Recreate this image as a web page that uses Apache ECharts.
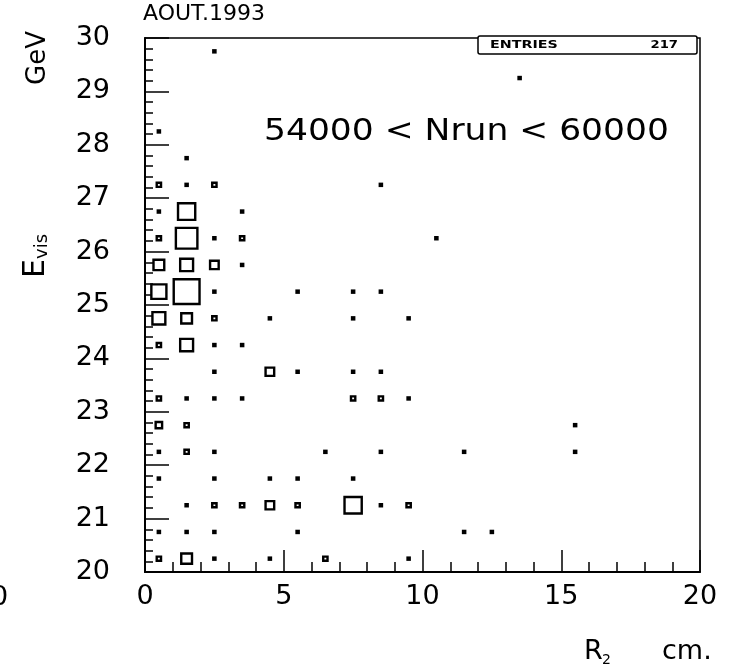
<!DOCTYPE html>
<html>
<head>
<meta charset="utf-8">
<script src="https://cdn.jsdelivr.net/npm/echarts@6/dist/echarts.min.js"></script>
<style>
html,body{margin:0;padding:0;background:#fff;}
#chart{width:733px;height:670px;}
</style>
</head>
<body>
<div id="chart"></div>
<script>
// ---------- data ----------
const titleText = 'AOUT.1993';
const runLabel = '54000 < Nrun < 60000';
const entriesLabel = 'ENTRIES';
const entriesValue = '217';
const xAxisUnit = 'cm.';
const yAxisUnit = 'GeV';
const xTickLabels = ['0', '5', '10', '15', '20'];
const yTickLabels = ['20', '21', '22', '23', '24', '25', '26', '27', '28', '29', '30'];
const xBinWidth = 1;
const yBinWidth = 0.5;
const maxCount = 12;

// bin centres (R2, Evis) and cell contents
const cellX = [
  2.5,
  13.5,
  0.5,
  1.5,
  0.5, 1.5, 2.5, 8.5,
  0.5, 1.5, 3.5,
  0.5, 1.5, 2.5, 3.5, 10.5,
  0.5, 1.5, 2.5, 3.5,
  0.5, 1.5, 2.5, 5.5, 7.5, 8.5,
  0.5, 1.5, 2.5, 4.5, 7.5, 9.5,
  0.5, 1.5, 2.5, 3.5,
  2.5, 4.5, 5.5, 7.5, 8.5,
  0.5, 1.5, 2.5, 3.5, 7.5, 8.5, 9.5,
  0.5, 1.5, 15.5,
  0.5, 1.5, 2.5, 6.5, 8.5, 11.5, 15.5,
  0.5, 2.5, 4.5, 5.5, 7.5,
  1.5, 2.5, 3.5, 4.5, 5.5, 7.5, 8.5, 9.5,
  0.5, 1.5, 2.5, 5.5, 11.5, 12.5,
  0.5, 1.5, 2.5, 4.5, 6.5, 9.5
];
const cellY = [
  29.75,
  29.25,
  28.25,
  27.75,
  27.25, 27.25, 27.25, 27.25,
  26.75, 26.75, 26.75,
  26.25, 26.25, 26.25, 26.25, 26.25,
  25.75, 25.75, 25.75, 25.75,
  25.25, 25.25, 25.25, 25.25, 25.25, 25.25,
  24.75, 24.75, 24.75, 24.75, 24.75, 24.75,
  24.25, 24.25, 24.25, 24.25,
  23.75, 23.75, 23.75, 23.75, 23.75,
  23.25, 23.25, 23.25, 23.25, 23.25, 23.25, 23.25,
  22.75, 22.75, 22.75,
  22.25, 22.25, 22.25, 22.25, 22.25, 22.25, 22.25,
  21.75, 21.75, 21.75, 21.75, 21.75,
  21.25, 21.25, 21.25, 21.25, 21.25, 21.25, 21.25, 21.25,
  20.75, 20.75, 20.75, 20.75, 20.75, 20.75,
  20.25, 20.25, 20.25, 20.25, 20.25, 20.25
];
const cellCount = [
  1,
  1,
  1,
  1,
  2, 1, 2, 1,
  1, 8, 1,
  2, 10, 1, 2, 1,
  5, 6, 4, 1,
  7, 12, 1, 1, 1, 1,
  6, 5, 2, 1, 1, 1,
  2, 6, 1, 1,
  1, 4, 1, 1, 1,
  2, 1, 1, 1, 2, 2, 1,
  3, 2, 1,
  1, 2, 1, 1, 1, 1, 1,
  1, 1, 1, 1, 1,
  1, 2, 2, 4, 2, 8, 1, 2,
  1, 1, 1, 1, 1, 1,
  2, 5, 1, 1, 2, 1
];

// ---------- chart ----------
const FONT = 'DejaVu Sans';
const seriesData = cellX.map((x, i) => [x, cellY[i], cellCount[i]]);

const chart = echarts.init(document.getElementById('chart'), null, {renderer: 'canvas'});

const option = {
  animation: false,
  backgroundColor: '#fff',
  grid: {
    left: 145, right: 33, top: 38, bottom: 98,
    show: true, borderColor: '#000', borderWidth: 1.5, backgroundColor: 'transparent'
  },
  xAxis: {
    type: 'value', min: 0, max: 20, interval: 5,
    axisLine: {show: true, onZero: false, lineStyle: {color: '#000', width: 2}},
    axisTick: {show: true, inside: true, length: 22, lineStyle: {color: '#000', width: 1.5}},
    minorTick: {show: true, splitNumber: 5, length: 10, lineStyle: {color: '#000', width: 1.5}},
    splitLine: {show: false},
    minorSplitLine: {show: false},
    axisLabel: {
      color: '#000', fontFamily: FONT, fontSize: 27, margin: 11,
      formatter: (v) => xTickLabels[Math.round(v / 5)]
    }
  },
  yAxis: {
    type: 'value', min: 20, max: 30, interval: 1,
    axisLine: {show: true, onZero: false, lineStyle: {color: '#000', width: 2}},
    axisTick: {show: true, inside: true, length: 24, lineStyle: {color: '#000', width: 1.5}},
    minorTick: {show: true, splitNumber: 5, length: 8, lineStyle: {color: '#000', width: 1.5}},
    splitLine: {show: false},
    minorSplitLine: {show: false},
    axisLabel: {
      color: '#000', fontFamily: FONT, fontSize: 27, margin: 35,
      formatter: (v) => yTickLabels[Math.round(v - 20)]
    }
  },
  series: [{
    type: 'custom',
    coordinateSystem: 'cartesian2d',
    clip: false,
    data: seriesData,
    renderItem: function (params, api) {
      const n = api.value(2);
      const c = api.coord([api.value(0), api.value(1)]);
      const s = api.size([xBinWidth, yBinWidth]);
      const frac = n / maxCount * 0.93;
      const w = s[0] * frac;
      const h = s[1] * frac;
      return {
        type: 'rect',
        shape: {x: c[0] - w / 2, y: c[1] - h / 2, width: w, height: h},
        style: {
          fill: n <= 1 ? '#000' : '#fff',
          stroke: '#000',
          lineWidth: 2.4
        }
      };
    }
  }],
  graphic: [
    {
      type: 'text', left: 143, top: 3,
      style: {text: titleText, fontFamily: FONT, fontSize: 22, fill: '#000'}
    },
    {
      type: 'text', x: 264, y: 132, scaleX: 1.15,
      style: {text: runLabel, fontFamily: FONT, fontSize: 30, fill: '#000', verticalAlign: 'middle', align: 'left'}
    },
    {
      type: 'rect', shape: {x: 478, y: 36, width: 219, height: 18, r: 2},
      style: {fill: '#fff', stroke: '#000', lineWidth: 1.5}, z: 10
    },
    {
      type: 'text', x: 490, y: 45.5, scaleX: 1.3, z: 11,
      style: {text: entriesLabel, fontFamily: FONT, fontSize: 11, fontWeight: 'bold', fill: '#000', verticalAlign: 'middle', align: 'left'}
    },
    {
      type: 'text', x: 678, y: 45.5, scaleX: 1.2, z: 11,
      style: {text: entriesValue, fontFamily: FONT, fontSize: 11, fontWeight: 'bold', fill: '#000', verticalAlign: 'middle', align: 'right'}
    },
    {
      type: 'text', x: 38, y: 58, rotation: Math.PI / 2,
      style: {text: yAxisUnit, fontFamily: FONT, fontSize: 26, fill: '#000', verticalAlign: 'middle', align: 'center'}
    },
    {
      type: 'group', x: 36, y: 278, rotation: Math.PI / 2,
      children: [
        {type: 'text', x: 0, y: 0,
         style: {text: 'E', fontFamily: FONT, fontSize: 30, fill: '#000', verticalAlign: 'middle', align: 'left'}},
        {type: 'text', x: 19, y: 6,
         style: {text: 'vis', fontFamily: FONT, fontSize: 18, fill: '#000', verticalAlign: 'middle', align: 'left'}}
      ]
    },
    {
      type: 'group', x: 584, y: 652,
      children: [
        {type: 'text', x: 0, y: 0,
         style: {text: 'R', fontFamily: FONT, fontSize: 27, fill: '#000', verticalAlign: 'middle', align: 'left'}},
        {type: 'text', x: 18, y: 8,
         style: {text: '2', fontFamily: FONT, fontSize: 14, fill: '#000', verticalAlign: 'middle', align: 'left'}}
      ]
    },
    {
      type: 'text', x: 662, y: 652,
      style: {text: xAxisUnit, fontFamily: FONT, fontSize: 27, fill: '#000', verticalAlign: 'middle', align: 'left'}
    },
    {
      type: 'text', x: -9, y: 598,
      style: {text: '0', fontFamily: FONT, fontSize: 27, fill: '#000', verticalAlign: 'middle', align: 'left'}
    }
  ]
};
chart.setOption(option);
</script>
</body>
</html>
